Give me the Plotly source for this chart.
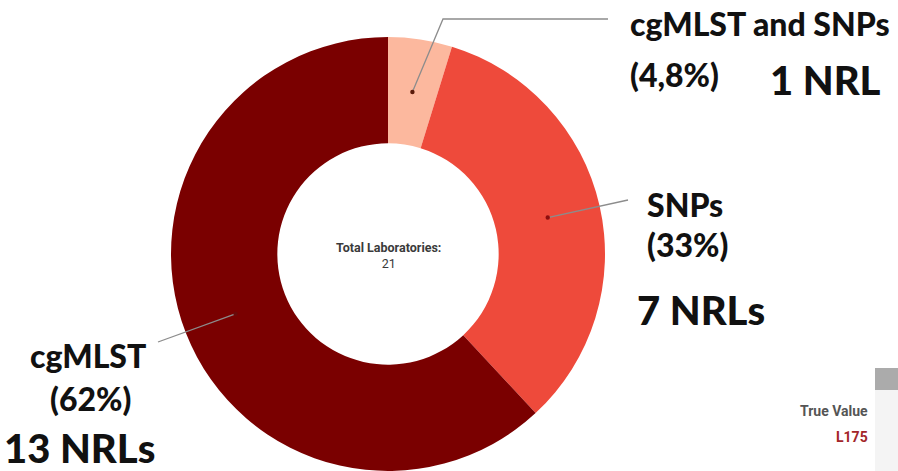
import math
import plotly.graph_objects as go

# --- data -------------------------------------------------------------
methods = ["cgMLST and SNPs", "SNPs", "cgMLST"]
labs = [1, 7, 13]
slice_colors = ["#FCB89E", "#EE4A3B", "#7A0000"]
dot_colors = ["#5A1A0A", "#8E0E0E", "#6A0A0A"]

total = sum(labs)

# --- layout geometry (pixels) ----------------------------------------
W, H = 898, 471
cx, cy, R = 388, 254, 217          # donut centre / outer radius
HOLE = 0.51
DOT_R = 0.755 * R                    # leader-line anchor radius


def px(x):
    return x / W


def py(y):
    return 1 - y / H


def pct_text(n):
    p = 100 * n / total
    return f"{p:.2g}".replace(".", ",") + "%"


def nrl_text(n):
    return f"{n} NRL" + ("s" if n != 1 else "")


fig = go.Figure(
    go.Pie(
        labels=methods,
        values=labs,
        hole=HOLE,
        sort=False,
        direction="clockwise",
        rotation=0,
        marker=dict(colors=slice_colors, line=dict(width=0)),
        textinfo="none",
        hoverinfo="label+value+percent",
        showlegend=False,
        domain=dict(x=[px(cx - R), px(cx + R)], y=[py(cy + R), py(cy - R)]),
    )
)

# anchor points at the middle angle of every slice
anchors = []
cum = 0
for n in labs:
    theta = 2 * math.pi * (cum + n / 2) / total
    anchors.append((cx + DOT_R * math.sin(theta), cy - DOT_R * math.cos(theta)))
    cum += n

# leader-line routes: anchor -> (optional elbow) -> label side
routes = [
    [(443, 19), (608, 19)],
    [(628, 200)],
    [(158, 342)],
]

shapes = []
for (ax, ay), route, dc in zip(anchors, routes, dot_colors):
    pts = [(ax, ay)] + route
    path = "M " + " L ".join(f"{px(x):.5f},{py(y):.5f}" for x, y in pts)
    shapes.append(dict(type="path", path=path, xref="paper", yref="paper",
                       line=dict(color="#8C8C8C", width=1.3), layer="above"))
    r = 2.2
    shapes.append(dict(type="circle", xref="paper", yref="paper",
                       x0=px(ax - r), x1=px(ax + r), y0=py(ay + r), y1=py(ay - r),
                       fillcolor=dc, line=dict(width=0), layer="above"))

# side panel fragment at the lower right
shapes.append(dict(type="rect", xref="paper", yref="paper",
                   x0=px(875), x1=1, y0=0, y1=py(390),
                   fillcolor="#F4F4F4", line=dict(width=0), layer="below"))
shapes.append(dict(type="rect", xref="paper", yref="paper",
                   x0=px(875), x1=1, y0=py(390), y1=py(368),
                   fillcolor="#ABABAB", line=dict(width=0), layer="below"))

LABEL_FONT = dict(family="Lato", size=32, color="#111111", weight=900)
BIG_FONT = dict(family="Lato", size=40, color="#111111", weight=900)


def text(x, y, s, font, xanchor="left"):
    return dict(x=px(x), y=py(y), xref="paper", yref="paper", text=s,
                showarrow=False, xanchor=xanchor, yanchor="middle", font=font)


annotations = [
    # method labels
    text(628, 24, methods[0], LABEL_FONT),
    text(628, 75, f"({pct_text(labs[0])})", LABEL_FONT),
    text(645, 204, methods[1], LABEL_FONT),
    text(645, 244, f"({pct_text(labs[1])})", LABEL_FONT),
    text(28, 355, methods[2], LABEL_FONT),
    text(48, 398, f"({pct_text(labs[2])})", LABEL_FONT),
    # laboratory counts
    text(768, 80, nrl_text(labs[0]), BIG_FONT),
    text(635, 310, nrl_text(labs[1]), BIG_FONT),
    text(2, 448, nrl_text(labs[2]), BIG_FONT),
    # centre of the donut
    dict(x=px(cx), y=py(cy + 1), xref="paper", yref="paper", showarrow=False,
         text="<b>Total Laboratories:</b><br>" + str(total),
         font=dict(family="Roboto", size=12.5, color="#3A3A3A"),
         xanchor="center", yanchor="middle"),
    # side panel fragment
    text(870, 411, "<b>True Value</b>",
         dict(family="Roboto", size=14, color="#555555"), xanchor="right"),
    text(870, 437, "<b>L175</b>",
         dict(family="Roboto", size=14, color="#A3262A"), xanchor="right"),
]

fig.update_layout(
    width=W,
    height=H,
    margin=dict(l=0, r=0, t=0, b=0),
    paper_bgcolor="white",
    plot_bgcolor="white",
    shapes=shapes,
    annotations=annotations,
)

fig.write_html("out.html")
